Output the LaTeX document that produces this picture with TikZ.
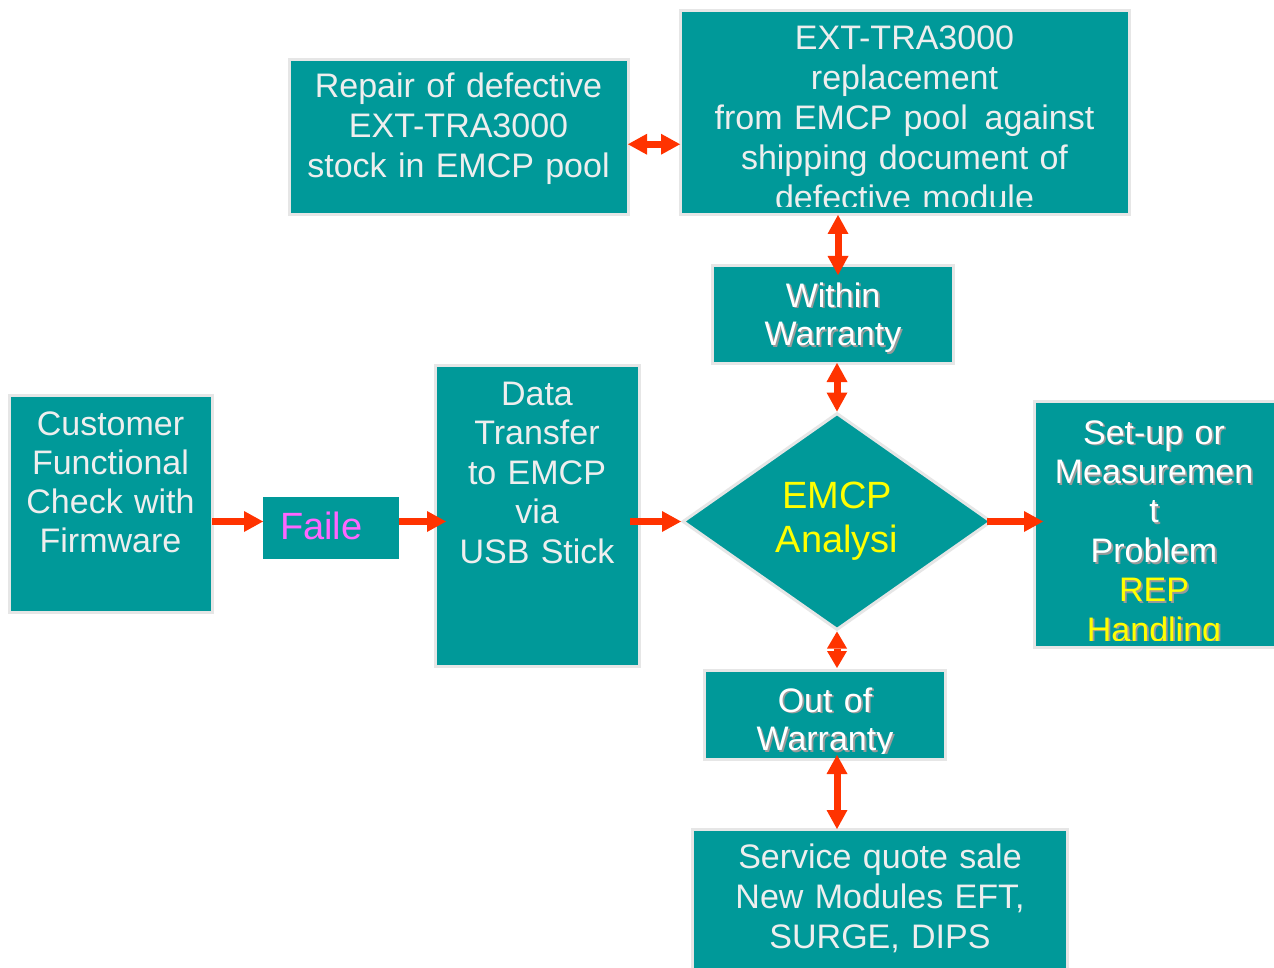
\documentclass[tikz,border=0pt]{standalone}
\usepackage{fontspec}
\setmainfont{Liberation Sans}
\usetikzlibrary{arrows.meta,shapes.geometric,calc}
\definecolor{teal0}{HTML}{009999}
\definecolor{edge0}{HTML}{E6E6E6}
\definecolor{txt0}{HTML}{EEEEEE}
\definecolor{arr0}{HTML}{FF3300}
\definecolor{shd0}{HTML}{9A9A9A}
\definecolor{yel0}{HTML}{FFFF00}
\definecolor{mag0}{HTML}{FF66FF}
\newcommand\shtxt[2][white]{\leavevmode\rlap{\hspace{1.8pt}\raisebox{-1.8pt}{\color{shd0}#2}}{\color{#1}#2}}
\tikzset{
  boxnode/.style={draw=edge0, line width=3pt, fill=teal0, rectangle, inner sep=0pt, outer sep=0pt},
  txtnode/.style={anchor=base, text width=480pt, align=center, inner sep=0pt, text=txt0, font=\fontsize{34}{40}\selectfont},
  tipA/.tip={Triangle[width=21pt,length=19pt,line width=0pt]},
  tipB/.tip={Triangle[width=20pt,length=17pt,line width=0pt]},
  arr/.style={draw=arr0, line width=7pt, -tipA},
  dbl/.style={draw=arr0, line width=7pt, tipA-tipA},
  dblshort/.style={draw=arr0, line width=7pt, tipB-tipB},
}
\begin{document}
\begin{tikzpicture}[x=1pt,y=-1pt]
\useasboundingbox (0,0) rectangle (1274,968);
\fill[white] (0,0) rectangle (1274,968);

% boxes
\node[boxnode, minimum width=338.5pt, minimum height=155.5pt] (repair) at (458.75,137.25) {};
\node[boxnode, minimum width=449pt, minimum height=204.5pt] (ext) at (904.5,112.75) {};
\node[boxnode, minimum width=241pt, minimum height=97pt] (within) at (832.5,314.5) {};
\node[boxnode, minimum width=203pt, minimum height=217pt] (cust) at (110.5,503.5) {};
\node[boxnode, draw=none, minimum width=136pt, minimum height=62pt] (faile) at (331,528) {};
\node[boxnode, minimum width=204pt, minimum height=301pt] (data) at (537,515.5) {};
\node[diamond, draw=edge0, line width=3pt, fill=teal0, minimum width=309pt, minimum height=217pt, inner sep=0pt] (emcp) at (837,521.5) {};
\node[boxnode, minimum width=246pt, minimum height=246pt] (setup) at (1157,524) {};
\node[boxnode, minimum width=241pt, minimum height=89pt] (out) at (824.5,714.5) {};
\node[boxnode, minimum width=375pt, minimum height=151pt] (service) at (879.5,904.5) {};

% texts
\node[txtnode] (repairtxt) at (458.5,98) {Repair of defective\\EXT-TRA3000\\stock in EMCP pool};
\begin{scope}
\clip (680,10) rectangle (1129,207);
\node[txtnode] (exttxt) at (904.5,50) {EXT-TRA3000\\replacement\\from EMCP pool\hspace{5.5pt} against\\shipping document of\\defective module};
\end{scope}
\node[txtnode, font=\fontsize{34}{38.5}\selectfont] (withintxt) at (833,307) {\shtxt{Within}\\\shtxt{Warranty}};
\node[txtnode, font=\fontsize{34}{39.3}\selectfont] (custtxt) at (110.5,435) {Customer\\Functional\\Check with\\Firmware};
\node[anchor=base west, inner sep=0pt, text=mag0, font=\fontsize{38}{44}\selectfont] (failetxt) at (280,539) {Faile};
\node[txtnode, font=\fontsize{34}{39.5}\selectfont] (datatxt) at (537,405) {Data\\Transfer\\to EMCP\\via\\USB Stick};
\node[txtnode, text=yel0, font=\fontsize{38}{44}\selectfont] (emcptxt) at (837,508) {EMCP\\Analysi};
\begin{scope}
\clip (1034,401) rectangle (1274,640);
\node[txtnode, font=\fontsize{34}{39.4}\selectfont] (setuptxt) at (1154,444) {\shtxt{Set-up or}\\\shtxt{Measuremen}\\\shtxt{t}\\\shtxt{Problem}\\\shtxt[yel0]{REP}\\\shtxt[yel0]{Handling}};
\end{scope}
\begin{scope}
\clip (704,670) rectangle (945,753);
\node[txtnode, font=\fontsize{34}{38.5}\selectfont] (outtxt) at (825,712) {\shtxt{Out of}\\\shtxt{Warranty}};
\end{scope}
\node[txtnode] (servicetxt) at (880,868) {Service quote sale\\New Modules EFT,\\SURGE, DIPS};

% connectors
\draw[dbl] ([yshift=-7pt]repair.east) -- ([yshift=-7pt]repair.east -| ext.west);
\draw[dbl] ([xshift=1pt]ext.south -| emcp.north) -- ([xshift=1pt,yshift=-9pt]within.north -| emcp.north);
\draw[dbl] (within.south -| emcp.north) -- (emcp.north);
\draw[arr] (cust.east |- emcp.center) -- (faile.west |- emcp.center);
\draw[arr] (faile.east |- emcp.center) -- ([xshift=11pt]data.west |- emcp.center);
\draw[arr] ([xshift=-9pt]data.east |- emcp.center) -- (emcp.west);
\draw[arr] ([xshift=-6pt]emcp.east) -- ([xshift=9pt]setup.west |- emcp.center);
\draw[dblshort] (emcp.south) -- ([yshift=2pt]out.north -| emcp.south);
\draw[dbl] ([yshift=4pt]out.south -| emcp.south) -- (service.north -| emcp.south);
\end{tikzpicture}
\end{document}
